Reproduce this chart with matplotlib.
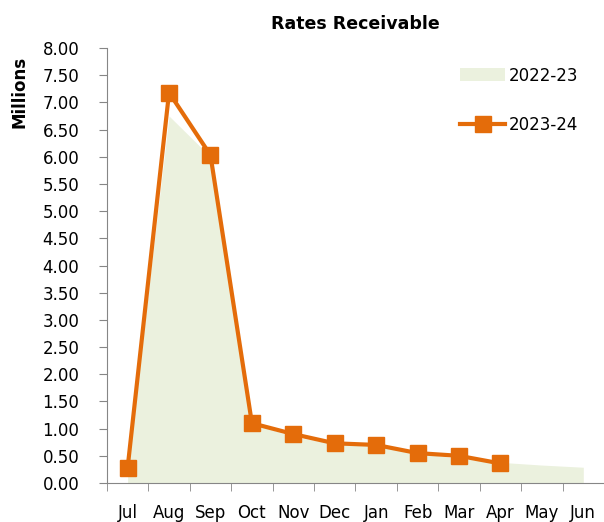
import numpy as np
import matplotlib.pyplot as plt

months = ['Jul', 'Aug', 'Sep', 'Oct', 'Nov', 'Dec', 'Jan', 'Feb', 'Mar', 'Apr', 'May', 'Jun']
fy2223 = [0.28, 6.75, 6.00, 1.10, 0.85, 0.72, 0.68, 0.55, 0.45, 0.38, 0.33, 0.29]
fy2324 = [0.28, 7.18, 6.03, 1.10, 0.90, 0.73, 0.70, 0.55, 0.50, 0.36]

plt.rcParams['font.family'] = ['DejaVu Sans']

fig = plt.figure(figsize=(6.04, 5.22), dpi=100)
ax = fig.add_axes([0.177, 0.0747, 0.823, 0.8333])

x = np.arange(len(months))
ax.fill_between(x, fy2223, 0, color='#EBF1DE', lw=0, label='2022-23')
ax.plot(x[:len(fy2324)], fy2324, color='#E46C0A', lw=3, marker='s', ms=11.5,
        label='2023-24', zorder=3)

ax.set_xlim(-0.5, 11.5)
ax.set_ylim(0, 8)
yt = np.arange(0, 8.01, 0.5)
ax.set_yticks(yt)
ax.set_yticklabels(['%.2f' % v for v in yt], fontsize=12)
ax.set_xticks(x)
ax.set_xticklabels(months, fontsize=12)
ax.set_xticks(np.arange(-0.5, 12, 1), minor=True)
ax.tick_params(axis='x', which='major', length=0, pad=15)
ax.tick_params(axis='x', which='minor', length=6, color='#868686')
ax.tick_params(axis='y', length=6, color='#868686', pad=14)

for s in ['top', 'right']:
    ax.spines[s].set_visible(False)
for s in ['left', 'bottom']:
    ax.spines[s].set_color('#868686')

fig.text(20 / 604, 1 - 92 / 522, 'Millions', rotation=90, fontsize=12,
         fontweight='bold', ha='center', va='center')
fig.text(355 / 604, 1 - 24 / 522, 'Rates Receivable', fontsize=12.5,
         fontweight='bold', ha='center', va='center')

ax.legend(loc='upper right', bbox_to_anchor=(0.978, 0.992), frameon=False,
          fontsize=12, handlelength=2.7, handleheight=0.8, labelspacing=1.9,
          handletextpad=0.2)

fig.savefig('out.png', dpi=100)
